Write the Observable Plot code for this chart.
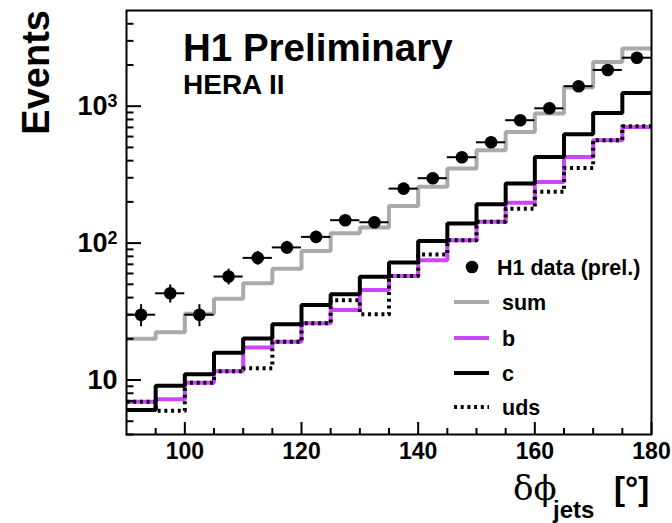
<!DOCTYPE html>
<html><head><meta charset="utf-8">
<script src="https://cdn.jsdelivr.net/npm/d3@7"></script>
<script src="https://cdn.jsdelivr.net/npm/@observablehq/plot@0.6"></script>
<style>
body{margin:0;background:#fff}
#c{position:relative;width:672px;height:523px}
#c svg{position:absolute;left:0;top:0}
</style>
</head><body><div id="c"></div>
<script>
// bins (lower edges, width 5 degrees)
const binLow = [90,95,100,105,110,115,120,125,130,135,140,145,150,155,160,165,170,175];
const binWidth = 5;
const dataCounts = [30,43,30,57,78,93,111,147,142,250,298,424,545,790,965,1400,1840,2260];
const dataErr    = [5.5,6.5,5.5,7.5,9,10,11,12,12,16,17,21,23,28,31,37,43,48];
const sumCounts  = [20,22.3,30.5,39.3,51,65,87.5,118,130,187,258,351,477,649,885,1370,2104,2636];
const bCounts    = [6.95,7.23,9.56,11.6,17.3,19.0,26,32.4,45.4,57.4,75.1,105,143,197,280,426,565,706];
const cCounts    = [6.04,9.09,11.0,15.8,20.1,25.6,35.3,42.3,56.8,72.3,103.5,139,192,273,426,625,893,1250];
const udsCounts  = [6.95,5.97,9.56,11.6,12.2,19.0,26,38.3,30.2,57.4,82.6,105,143,178,237,354,565,714];
const yTickLabels = [10,100,1000];
const yTickExp = ["", "2", "3"];
const yMinorTicks = [4,5,6,7,8,9,20,30,40,50,60,70,80,90,200,300,400,500,600,700,800,900,2000,3000,4000];
const xTickLabels = [100,120,140,160,180];
const xMinorTicks = [95,105,110,115,125,130,135,145,150,155,165,170,175];
const legendEntries = ["H1 data (prel.)","sum","b","c","uds"];

const W = 672, H = 523, mL = 126, mR = 21, mT = 10, mB = 89;
const pw = W - mL - mR, ph = H - mT - mB;

function steps(vals){
  const pts = binLow.map((x,i)=>({x, y: vals[i]}));
  pts.push({x: binLow[binLow.length-1] + binWidth, y: vals[vals.length-1]});
  return pts;
}
const points = binLow.map((lo,i)=>({lo, hi: lo+binWidth, xc: lo+binWidth/2, v: dataCounts[i], e: dataErr[i]}));

const plot = Plot.plot({
  width: W, height: H,
  marginLeft: mL, marginRight: mR, marginTop: mT, marginBottom: mB,
  x: {domain: [90,180]},
  y: {type: "log", domain: [4,5000]},
  style: {fontFamily: "'Liberation Sans', Arial, sans-serif", background: "white", color: "black"},
  marks: [
    Plot.line(steps(sumCounts), {x:"x", y:"y", curve:"step-after", stroke:"#aaaaaa", strokeWidth:4, strokeLinejoin:"miter", strokeLinecap:"butt"}),
    Plot.line(steps(bCounts), {x:"x", y:"y", curve:"step-after", stroke:"#cc44ff", strokeWidth:4, strokeLinejoin:"miter", strokeLinecap:"butt"}),
    Plot.line(steps(cCounts), {x:"x", y:"y", curve:"step-after", stroke:"black", strokeWidth:4, strokeLinejoin:"miter", strokeLinecap:"butt"}),
    Plot.line(steps(udsCounts), {x:"x", y:"y", curve:"step-after", stroke:"black", strokeWidth:4, strokeDasharray:"3,3.7", strokeLinecap:"butt"}),
    Plot.ruleX(points, {x:"xc", y1: d=>d.v-d.e, y2: d=>d.v+d.e, stroke:"black", strokeWidth:2}),
    Plot.ruleY(points, {y:"v", x1:"lo", x2:"hi", stroke:"black", strokeWidth:2}),
    Plot.dot(points, {x:"xc", y:"v", r:6.3, fill:"black", stroke:"none"}),
    // inward ticks
    Plot.ruleY(yTickLabels, {y: d=>d, insetRight: pw-15, stroke:"black", strokeWidth:2}),
    Plot.ruleY(yMinorTicks, {y: d=>d, insetRight: pw-7.5, stroke:"black", strokeWidth:2}),
    Plot.ruleX(xTickLabels, {x: d=>d, insetTop: ph-12, stroke:"black", strokeWidth:2}),
    Plot.ruleX(xMinorTicks, {x: d=>d, insetTop: ph-6, stroke:"black", strokeWidth:2}),
    Plot.axisY(yTickLabels, {tickSize:0, tickPadding:9, fontSize:27, fontWeight:"bold", tickFormat: d=>"10", label:null}),
    Plot.axisX(xTickLabels, {tickSize:0, tickPadding:8, fontSize:23, fontWeight:"bold", label:null}),
    Plot.frame({stroke:"black", strokeWidth:2})
  ]
});
const c = document.getElementById("c");
c.appendChild(plot);

// superscript exponents on the y tick labels
d3.select(plot).selectAll('[aria-label="y-axis tick label"] text').each(function(d,i){
  const exp = yTickExp[i];
  if (!exp) return;
  const el = d3.select(this);
  const base = el.text();
  el.text(null);
  el.append("tspan").text(base);
  el.append("tspan").attr("dy","-0.45em").attr("font-size","0.66em").text(exp);
});

// overlay: titles, legend
const svg = d3.select(c).append("svg").attr("width", W).attr("height", H)
  .style("font-family", "'Liberation Sans', Arial, sans-serif").style("font-weight","bold");
svg.append("text").attr("x",183).attr("y",61).attr("font-size",38.5).text("H1 Preliminary");
svg.append("text").attr("x",183).attr("y",94).attr("font-size",28).text("HERA II");
svg.append("text").attr("transform","translate(49,10) rotate(-90)").attr("text-anchor","end").attr("font-size",38).text("Events");

// axis title
const t = svg.append("text").attr("y",500);
t.append("tspan").attr("x",513).attr("font-family","'DejaVu Serif', 'Liberation Serif', serif").attr("font-weight","normal").attr("font-size",34).text("δϕ");
t.append("tspan").attr("x",553).attr("y",518).attr("font-size",24).text("jets");
t.append("tspan").attr("x",614).attr("y",500).attr("font-size",33).text("[°]");

// legend
const lg = svg.append("g");
const ly = [267,302,338,373,407];
lg.append("circle").attr("cx",472).attr("cy",ly[0]).attr("r",6.3).attr("fill","black");
const styles = [null,{s:"#aaaaaa"},{s:"#cc44ff"},{s:"black"},{s:"black",d:"3,3.7"}];
for (let i=1;i<5;i++){
  const l = lg.append("line").attr("x1",454).attr("x2",489).attr("y1",ly[i]).attr("y2",ly[i])
    .attr("stroke",styles[i].s).attr("stroke-width",4);
  if (styles[i].d) l.attr("stroke-dasharray",styles[i].d);
}
legendEntries.forEach((txt,i)=>{
  lg.append("text").attr("x", i===0?497:502).attr("y", ly[i]+7.5).attr("font-size",21.5).text(txt);
});
</script>
</body></html>
